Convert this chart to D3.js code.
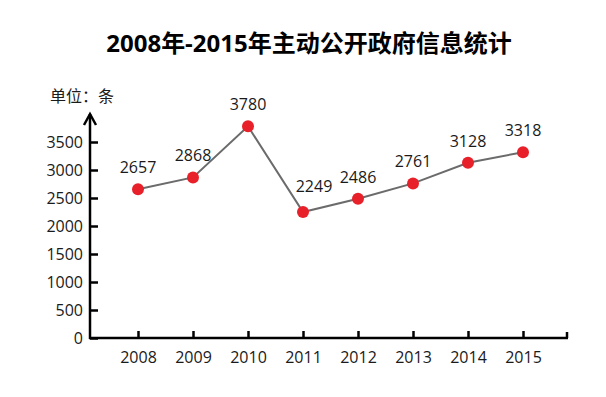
<!DOCTYPE html>
<html>
<head>
<meta charset="utf-8">
<script src="https://cdn.jsdelivr.net/npm/d3@7"></script>
<style>
  body { margin: 0; background: #fff; }
  svg { display: block; font-family: "Open Sans", "Noto Sans CJK SC", sans-serif; }
  .axis path, .axis line { stroke: #000; stroke-width: 2.5; }
  .axis text { font-size: 16px; fill: #1a1a1a; font-family: "Open Sans", sans-serif; }
</style>
</head>
<body>
<svg id="chart" width="606" height="397"></svg>
<script>
// Data
const years = ['2008', '2009', '2010', '2011', '2012', '2013', '2014', '2015'];
const counts = [2657, 2868, 3780, 2249, 2486, 2761, 3128, 3318];
const yTicks = [0, 500, 1000, 1500, 2000, 2500, 3000, 3500];

// Layout
const layout = {
  axisLeft: 90,
  axisRight: 568,
  axisBottom: 338,
  axisTop: 114,
  firstX: 138,
  lastX: 523,
  labelGap: 16,
};

const svg = d3.select('#chart');

// Title
svg.append('text')
  .attr('x', 309)
  .attr('y', 52)
  .attr('text-anchor', 'middle')
  .style('font-family', '"Open Sans", "Noto Sans CJK SC", sans-serif')
  .style('font-size', '24px')
  .style('font-weight', 'bold')
  .attr('fill', '#000')
  .text('2008年-2015年主动公开政府信息统计');

// Unit label
svg.append('text')
  .attr('x', 50)
  .attr('y', 102)
  .style('font-family', '"Noto Sans CJK SC", sans-serif')
  .style('font-size', '16px')
  .attr('fill', '#1a1a1a')
  .text('单位：条');

// Scales
const x = d3.scalePoint()
  .domain(years)
  .range([layout.firstX, layout.lastX]);

const y = d3.scaleLinear()
  .domain([0, 4000])
  .range([layout.axisBottom, layout.axisTop]);

// Y axis, ticks pointing into the plot
const yAxis = svg.append('g')
  .attr('class', 'axis')
  .attr('transform', `translate(${layout.axisLeft},0)`)
  .call(d3.axisLeft(y).tickValues(yTicks).tickFormat(d3.format('d'))
    .tickSizeInner(-8).tickSizeOuter(0).tickPadding(7));
yAxis.select('.domain').remove();
yAxis.append('line')
  .attr('x1', 0).attr('x2', 0)
  .attr('y1', layout.axisBottom + 1).attr('y2', layout.axisTop)
  .attr('stroke', '#000').attr('stroke-width', 2.5);
// Arrow head
yAxis.append('path')
  .attr('d', `M-6,${layout.axisTop + 11}L0,${layout.axisTop}L6,${layout.axisTop + 11}`)
  .attr('fill', 'none')
  .attr('stroke', '#000')
  .attr('stroke-width', 2.5);

// X axis, ticks pointing up
const xAxis = svg.append('g')
  .attr('class', 'axis')
  .attr('transform', `translate(0,${layout.axisBottom})`)
  .call(d3.axisBottom(x).tickSizeInner(-7).tickSizeOuter(0).tickPadding(14));
xAxis.select('.domain').remove();
xAxis.append('line')
  .attr('x1', layout.axisLeft - 1).attr('x2', layout.axisRight)
  .attr('y1', 0).attr('y2', 0)
  .attr('stroke', '#000').attr('stroke-width', 2.5);
xAxis.append('line')
  .attr('x1', layout.axisRight - 1).attr('x2', layout.axisRight - 1)
  .attr('y1', 0).attr('y2', -6)
  .attr('stroke', '#000').attr('stroke-width', 2.5);

// Line
const points = years.map((d, i) => ({ year: d, value: counts[i] }));
const line = d3.line()
  .x(d => x(d.year))
  .y(d => y(d.value));

svg.append('path')
  .datum(points)
  .attr('d', line)
  .attr('fill', 'none')
  .attr('stroke', '#6b6b6b')
  .attr('stroke-width', 2);

// Points
svg.selectAll('.dot')
  .data(points)
  .join('circle')
  .attr('class', 'dot')
  .attr('cx', d => x(d.year))
  .attr('cy', d => y(d.value))
  .attr('r', 6)
  .attr('fill', '#e8202a');

// Value labels (the dip label sits right of its point so it clears the line)
svg.selectAll('.value')
  .data(points)
  .join('text')
  .attr('class', 'value')
  .attr('x', d => x(d.year))
  .attr('dx', d => (d.year === '2011' ? 11 : 0))
  .attr('y', d => y(d.value) - layout.labelGap - (d.year === '2011' ? 4 : 0))
  .attr('text-anchor', 'middle')
  .style('font-size', '16px')
  .style('font-family', '"Open Sans", sans-serif')
  .attr('fill', '#1a1a1a')
  .text(d => d.value);
</script>
</body>
</html>
